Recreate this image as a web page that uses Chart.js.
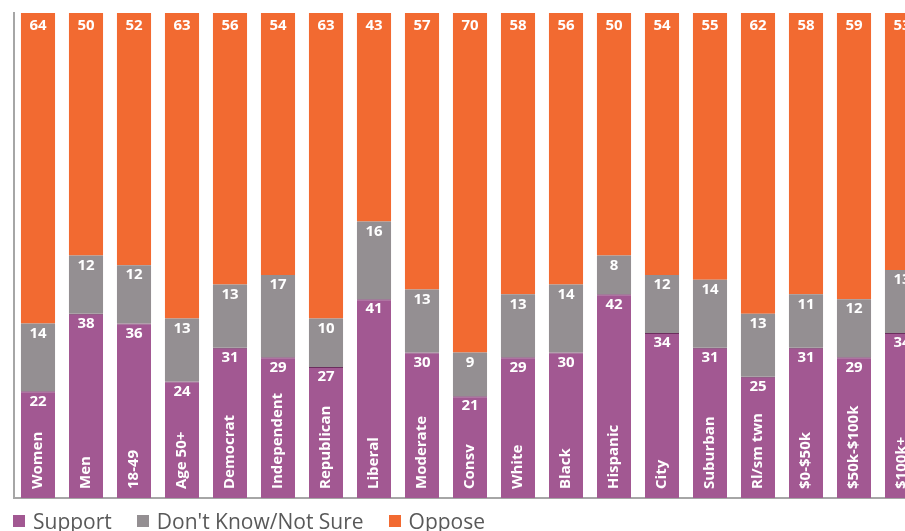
<!DOCTYPE html>
<html>
<head>
<meta charset="utf-8">
<script src="https://cdn.jsdelivr.net/npm/chart.js@4.4.1/dist/chart.umd.min.js"></script>
<style>
  html, body { margin: 0; padding: 0; background: #fff; overflow: hidden; }
  #wrap { position: absolute; left: 0; top: 0; width: 940px; height: 531px; }
  #legend { position: absolute; left: 13px; top: 507px; display: flex; font: 21px "Open Sans"; color: #595959; line-height: 28px; white-space: nowrap; }
  #legend span.item { display: flex; align-items: center; margin-right: 25px; }
  #legend span.box { width: 12px; height: 12px; margin-right: 8px; }
</style>
</head>
<body>
<div id="wrap"><canvas id="chart"></canvas></div>
<div id="legend"></div>
<script>
// groups along the x axis
var categories = ['Women', 'Men', '18-49', 'Age 50+', 'Democrat', 'Independent', 'Republican',
  'Liberal', 'Moderate', 'Consv', 'White', 'Black', 'Hispanic', 'City', 'Suburban',
  'Rl/sm twn', '$0-$50k', '$50k-$100k', '$100k+'];
var support = [22, 38, 36, 24, 31, 29, 27, 41, 30, 21, 29, 30, 42, 34, 31, 25, 31, 29, 34];
var notSure = [14, 12, 12, 13, 13, 17, 10, 16, 13, 9, 13, 14, 8, 12, 14, 13, 11, 12, 13];
var oppose  = [64, 50, 52, 63, 56, 54, 63, 43, 57, 70, 58, 56, 50, 54, 55, 62, 58, 59, 53];

var PURPLE = '#a25892', GRAY = '#948f92', ORANGE = '#f26a31';

// white numbers at the top of each segment, names up the bottom of each bar
var barText = {
  id: 'barText',
  afterDatasetsDraw: function (chart) {
    var ctx = chart.ctx;
    ctx.save();
    ctx.fillStyle = '#fff';
    ctx.font = 'bold 15px "Open Sans"';
    ctx.textAlign = 'center';
    ctx.textBaseline = 'middle';
    chart.data.datasets.forEach(function (ds, i) {
      var off = i == 2 ? 13 : 10;
      chart.getDatasetMeta(i).data.forEach(function (bar, j) {
        ctx.fillText(ds.data[j], bar.x, bar.y + off);
      });
    });
    // category names
    ctx.textAlign = 'left';
    chart.getDatasetMeta(0).data.forEach(function (bar, j) {
      ctx.save();
      ctx.translate(bar.x, bar.base - 9);
      ctx.rotate(-Math.PI / 2);
      ctx.fillText(categories[j], 0, 0);
      ctx.restore();
    });
    ctx.restore();
  }
};

var chart = new Chart(document.getElementById('chart'), {
  type: 'bar',
  data: {
    labels: categories,
    datasets: [
      { label: 'Support', data: support, backgroundColor: PURPLE,
        borderColor: '#6b2e5e', borderWidth: { top: 1, left: 0, right: 0, bottom: 0 }, borderSkipped: false },
      { label: "Don't Know/Not Sure", data: notSure, backgroundColor: GRAY, borderWidth: 0 },
      { label: 'Oppose', data: oppose, backgroundColor: ORANGE, borderWidth: 0 }
    ]
  },
  options: {
    responsive: true,
    maintainAspectRatio: false,
    animation: false,
    categoryPercentage: 1,
    barPercentage: 0.71,
    layout: { padding: { left: 14, right: 14, top: 13, bottom: 33 } },
    scales: {
      x: {
        stacked: true,
        grid: { display: false, drawTicks: false },
        ticks: { display: false },
        border: { color: '#a6a6a6', width: 2 }
      },
      y: {
        stacked: true,
        min: 0, max: 100,
        grid: { display: false, drawTicks: false },
        ticks: { display: false },
        border: { color: '#a6a6a6', width: 2 }
      }
    },
    plugins: {
      legend: { display: false },
      tooltip: { enabled: false }
    }
  },
  plugins: [barText]
});

// legend below the plot, built from the datasets
var leg = document.getElementById('legend');
chart.data.datasets.forEach(function (ds) {
  var item = document.createElement('span');
  item.className = 'item';
  var box = document.createElement('span');
  box.className = 'box';
  box.style.background = ds.backgroundColor;
  item.appendChild(box);
  item.appendChild(document.createTextNode(ds.label));
  leg.appendChild(item);
});
</script>
</body>
</html>
